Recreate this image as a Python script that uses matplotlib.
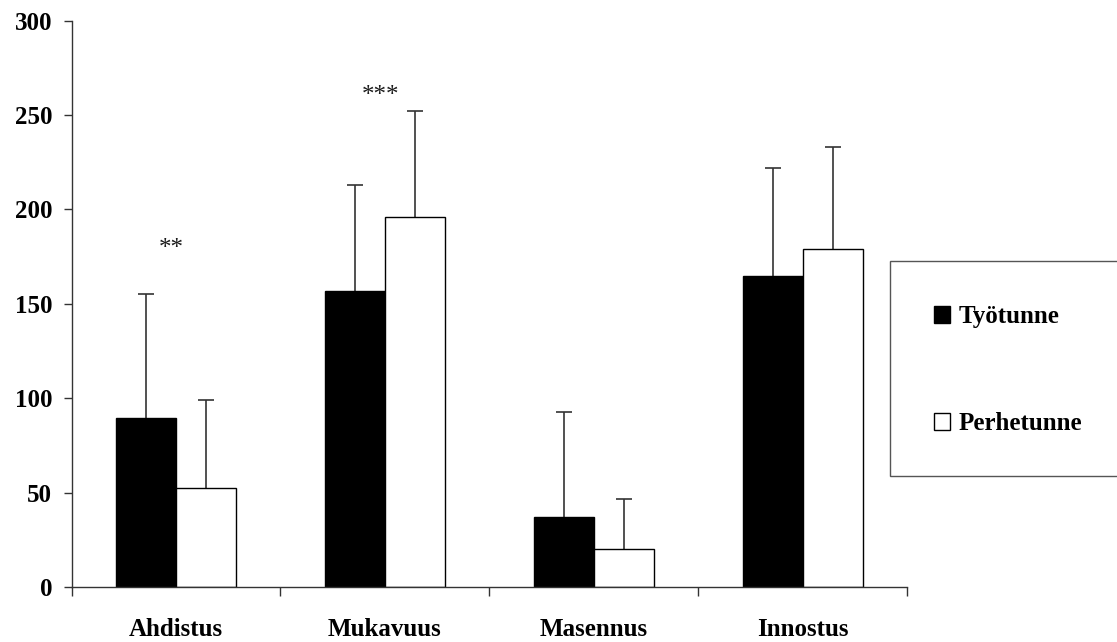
import matplotlib
matplotlib.use("Agg")
import matplotlib.pyplot as plt
import numpy as np
from matplotlib.patches import Rectangle

categories = ["Ahdistus", "Mukavuus", "Masennus", "Innostus"]
series_names = ["Työtunne", "Perhetunne"]
tyo = [89.5, 157, 37, 164.5]
tyo_err = [65.5, 56, 55.5, 57.5]
perhe = [52.5, 196, 20, 179]
perhe_err = [46.5, 56, 26.5, 54]
stars = ["**", "***", "", ""]
star_y = [179, 260, 0, 0]
y_ticks = [0, 50, 100, 150, 200, 250, 300]

plt.rcParams['font.family'] = ['Liberation Serif', 'DejaVu Serif']

fig = plt.figure(figsize=(11.17, 6.42), dpi=100)
ax = fig.add_axes([71.5/1117, 1 - 587/642, (907-71.5)/1117, (587-20.5)/642])

n = len(categories)
centers = np.arange(n) + 0.5
w = 0.287
ec = '#333333'
b1 = ax.bar(centers - w/2, tyo, w, color='black', edgecolor='black', linewidth=1, label=series_names[0], zorder=2)
b2 = ax.bar(centers + w/2, perhe, w, color='white', edgecolor='black', linewidth=1, label=series_names[1], zorder=2)
# symmetric bars drawn beneath the bars so only the upper half is visible
ax.errorbar(centers - w/2, tyo, yerr=tyo_err, fmt='none', ecolor=ec, elinewidth=1.2, capsize=6, capthick=1.2, zorder=1)
ax.errorbar(centers + w/2, perhe, yerr=perhe_err, fmt='none', ecolor=ec, elinewidth=1.2, capsize=6, capthick=1.2, zorder=1)

for c, s, yy in zip(centers, stars, star_y):
    if s:
        ax.text(c - 0.02, yy, s, ha='center', va='center', fontsize=18, color='#1a1a1a')

ax.set_xlim(0, n)
ax.set_ylim(0, 300)
ax.set_xticks(np.arange(n + 1))
ax.set_xticklabels([])
ax.set_xticks(centers, minor=True)
ax.set_xticklabels(categories, minor=True, fontsize=18, fontweight='bold')
ax.tick_params(axis='x', which='major', direction='out', length=6.5, width=1, color='#333333')
ax.tick_params(axis='x', which='minor', length=0, pad=22)
ax.set_yticks(y_ticks)
ax.set_yticklabels([str(v) for v in y_ticks], fontsize=18, fontweight='bold')
ax.tick_params(axis='y', direction='out', length=6, width=1, color='#333333', pad=8)

for s in ['top', 'right']:
    ax.spines[s].set_visible(False)
for s in ['left', 'bottom']:
    ax.spines[s].set_color('#333333')
    ax.spines[s].set_linewidth(1)

# legend box
rect = Rectangle((890/1117, 1 - 476/642), (1130-890)/1117, (476-261)/642,
                 transform=fig.transFigure, facecolor='white', edgecolor='#555555',
                 linewidth=1, clip_on=False)
fig.patches.append(rect)
leg = fig.legend(handles=[b1, b2], loc='upper left', bbox_to_anchor=(911/1117, 1 - 283/642),
                 frameon=False, handlelength=0.65, handleheight=0.65,
                 handletextpad=0.35, labelspacing=3.36, prop={'weight': 'bold', 'size': 18})

fig.savefig("out.png", dpi=100)
